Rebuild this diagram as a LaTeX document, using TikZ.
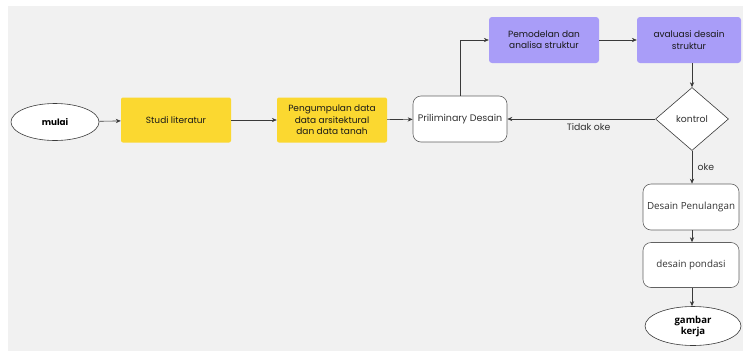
\documentclass[tikz,border=0pt]{standalone}
\usepackage{fontspec}
\setmainfont{Poppins}
\newfontfamily\osans{Open Sans}
\usetikzlibrary{shapes.geometric,arrows.meta}
\definecolor{bggray}{HTML}{F1F1F1}
\definecolor{yel}{HTML}{FBD830}
\definecolor{purp}{HTML}{A99DF8}
\definecolor{ln}{HTML}{3A3A3A}
\tikzset{
  px/.style={x=1pt,y=-1pt},
  yelbox/.style={draw=none,fill=yel,rounded corners=2pt,minimum width=110pt,minimum height=45pt,align=center,font=\fontsize{9}{11.3}\selectfont,text=black!90},
  purbox/.style={draw=none,fill=purp,rounded corners=3pt,minimum width=110pt,minimum height=46pt,align=center,font=\fontsize{9}{11.3}\selectfont,text=black!90},
  whitebox/.style={draw=ln!80,line width=0.6pt,fill=white,rounded corners=8pt,minimum height=46pt,align=center,text=black!80},
  term/.style={ellipse,draw=ln,line width=0.6pt,fill=white,align=center},
  dec/.style={diamond,draw=ln,line width=0.6pt,fill=white,aspect=1.15,inner sep=0pt,minimum width=73pt,minimum height=63pt,font=\fontsize{9.3}{10}\selectfont,text=black!80},
  arr/.style={draw=ln,line width=0.6pt,-{Stealth[length=5pt,width=4.2pt]}},
  lbl/.style={font=\fontsize{9.3}{10}\selectfont,text=black!80}
}
\begin{document}
\begin{tikzpicture}[px]
\useasboundingbox (0,0) rectangle (743,351);
\fill[bggray] (8,6) rectangle (743,351);
\node[term,minimum width=88pt,minimum height=37pt,font=\bfseries\fontsize{8.8}{10}\selectfont] (mulai) at (55,122) {mulai};
\node[yelbox] (studi) at (176,120) {Studi literatur};
\node[yelbox] (kumpul) at (332,120) {Pengumpulan data\\data arsitektural\\dan data tanah};
\node[whitebox,minimum width=94pt,font=\fontsize{9.5}{11}\selectfont] (prelim) at (460,119) {Priliminary Desain};
\node[purbox] (model) at (544,40) {Pemodelan dan\\analisa struktur};
\node[purbox,minimum width=104pt] (eval) at (689,40) {avaluasi desain\\struktur};
\node[dec] (kontrol) at (692,119) {kontrol};
\node[whitebox,minimum width=96pt,font=\osans\fontsize{9.8}{11}\selectfont] (tul) at (691,207) {Desain Penulangan};
\node[whitebox,minimum width=96pt,minimum height=45pt,font=\osans\fontsize{9.8}{11}\selectfont] (pond) at (691,265) {desain pondasi};
\node[term,minimum width=96pt,minimum height=39pt,inner sep=1pt,font=\osans\bfseries\fontsize{9.6}{11}\selectfont] (gambar) at (693,326) {gambar\\kerja};

\draw[arr] (mulai) -- (studi);
\draw[arr] (studi) -- (kumpul);
\draw[arr] (kumpul) -- (prelim);
\draw[arr] (prelim.north) |- (model.west);
\draw[arr] (model) -- (eval);
\draw[arr] (eval.south -| kontrol.north) -- (kontrol.north);
\draw[arr] (kontrol.west) -- node[lbl,below=1pt,pos=0.45] {Tidak oke} (prelim.east);
\draw[arr] (kontrol.south) -- node[lbl,right=2pt] {oke} (kontrol.south |- tul.north);
\draw[arr] (tul.south -| kontrol.south) -- (kontrol.south |- pond.north);
\draw[arr] (pond.south -| kontrol.south) -- (kontrol.south |- gambar.north);
\end{tikzpicture}
\end{document}
